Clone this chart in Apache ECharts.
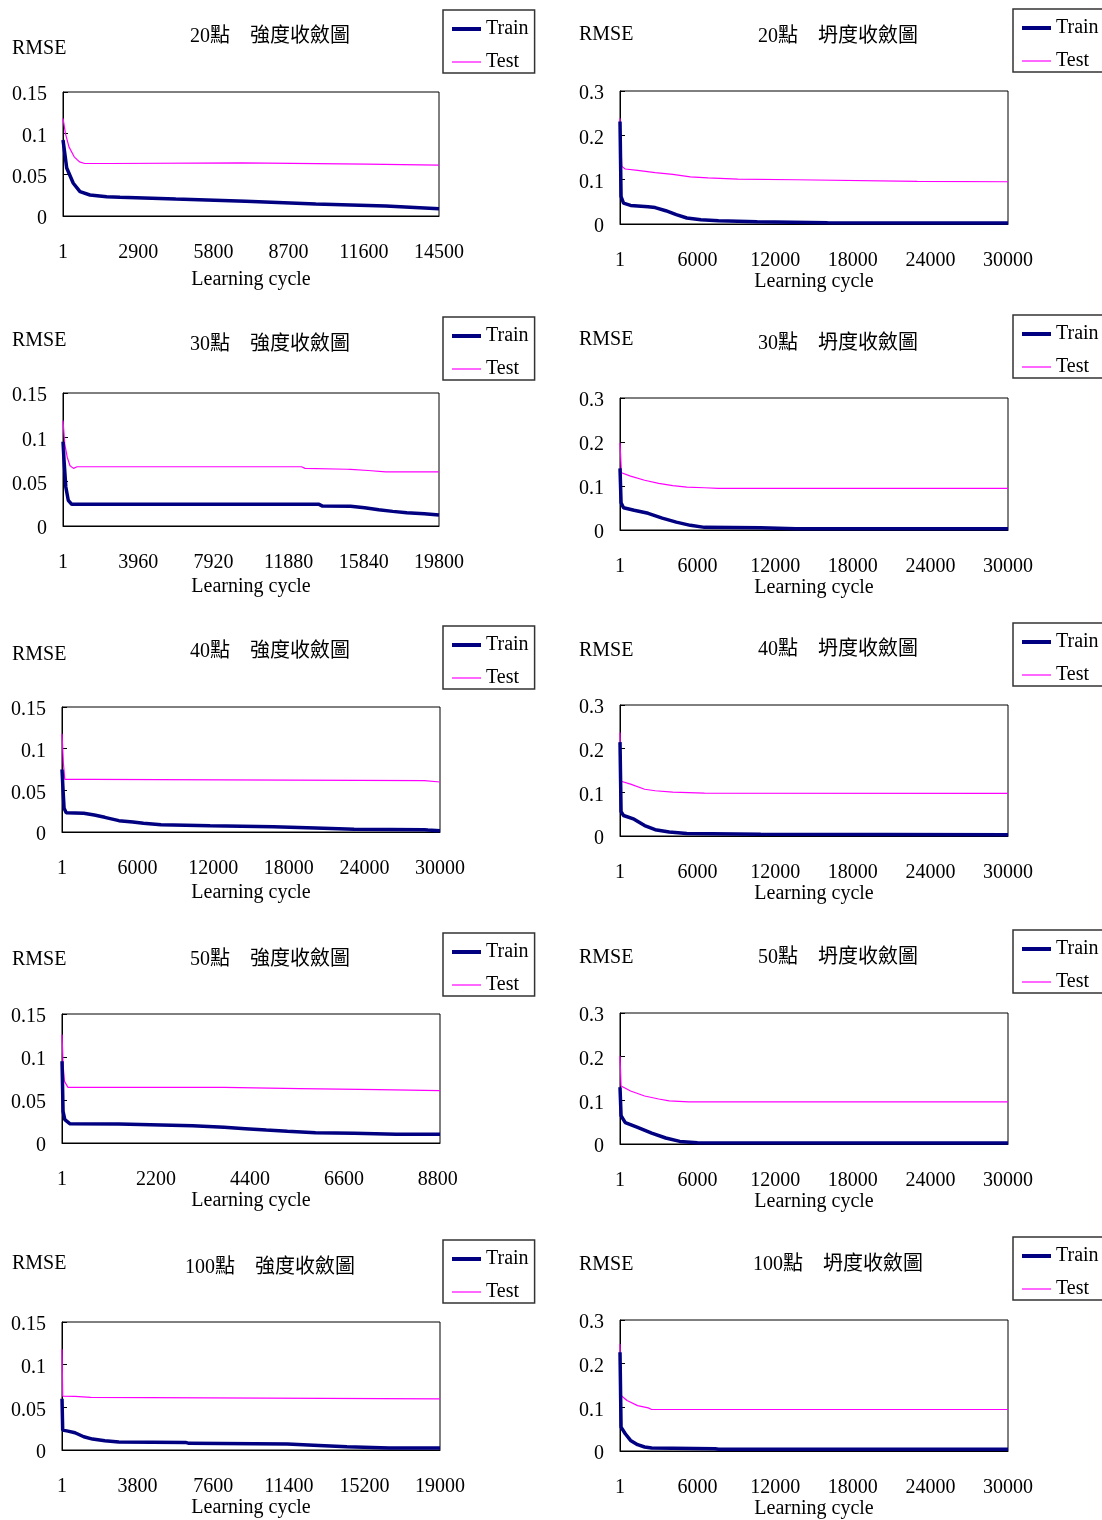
<!DOCTYPE html>
<html>
<head>
<meta charset="utf-8">
<script src="https://cdn.jsdelivr.net/npm/echarts@6/dist/echarts.min.js"></script>
<style>
html,body{margin:0;padding:0;background:#fff;}
#c{width:1102px;height:1520px;}
</style>
</head>
<body>
<div id="c"></div>
<script>
// ---------- DATA ----------
const panelTitles = ['20點　強度收斂圖','20點　坍度收斂圖','30點　強度收斂圖','30點　坍度收斂圖','40點　強度收斂圖','40點　坍度收斂圖','50點　強度收斂圖','50點　坍度收斂圖','100點　強度收斂圖','100點　坍度收斂圖'];
const yLabel = 'RMSE';
const xLabel = 'Learning cycle';
const seriesNames = ['Train','Test'];

const xTicks20S = [1,2900,5800,8700,11600,14500];
const xTicks30S = [1,3960,7920,11880,15840,19800];
const xTicks40S = [1,6000,12000,18000,24000,30000];
const xTicks50S = [1,2200,4400,6600,8800];
const xTicks100S = [1,3800,7600,11400,15200,19000];
const xTicksSlump = [1,6000,12000,18000,24000,30000];
const xMaxes = [14500,30000,19800,30000,30000,30000,8850,30000,19000,30000];
const yTicksStrength = [0,0.05,0.1,0.15];
const yTicksSlump = [0,0.1,0.2,0.3];

const train20S = [[1,0.092],[143,0.058],[397,0.0396],[655,0.0294],[1041,0.0254],[1685,0.0234],[2200,0.0228],[4347,0.0205],[7047,0.0177],[9747,0.0145],[12447,0.0121],[14500,0.0088]];
const test20S = [[1,0.118],[95,0.0997],[230,0.0836],[432,0.0716],[635,0.0655],[837,0.0635],[1800,0.0635],[1850,0.0643],[6900,0.0643],[6912,0.0627],[11700,0.0627],[11772,0.0615],[14500,0.0615]];

const train20T = [[1,0.231],[82,0.062],[272,0.047],[816,0.042],[2176,0.039],[2720,0.037],[3536,0.030],[4352,0.021],[5168,0.0135],[6256,0.0098],[7616,0.0075],[10608,0.0052],[16048,0.003],[30000,0.0022]];
const test20T = [[1,0.2385],[136,0.130],[408,0.124],[1360,0.121],[2720,0.116],[4080,0.112],[5440,0.1065],[6800,0.104],[9112,0.101],[13600,0.0998],[22984,0.096],[30000,0.0953]];

const train30S = [[1,0.095],[55,0.074],[148,0.044],[277,0.029],[462,0.0244],[13483,0.0244],[13668,0.0225],[15145,0.0222],[15884,0.0206],[16623,0.0184],[17362,0.0165],[18101,0.015],[19024,0.0139],[19800,0.0124]];
const test30S = [[1,0.119],[92,0.0926],[222,0.0776],[369,0.068],[554,0.065],[739,0.0668],[12560,0.0668],[12744,0.065],[14960,0.064],[15145,0.0638],[16069,0.0626],[16992,0.061],[19800,0.061]];

const train30T = [[1,0.14],[82,0.062],[272,0.0506],[1088,0.045],[2176,0.038],[3264,0.027],[4352,0.018],[5440,0.0106],[6528,0.006],[10880,0.0053],[13600,0.003],[30000,0.003]];
const test30T = [[1,0.198],[109,0.130],[816,0.1225],[1904,0.113],[2992,0.106],[4080,0.101],[5168,0.0975],[6528,0.096],[7616,0.0945],[30000,0.0945]];

const train40S = [[1,0.075],[84,0.05],[167,0.0284],[334,0.0232],[1727,0.0224],[2563,0.0204],[3399,0.0176],[4513,0.0136],[5628,0.012],[6464,0.0104],[7857,0.0088],[11757,0.0076],[16772,0.0064],[20115,0.0048],[23180,0.0032],[28752,0.0028],[29030,0.0024],[30000,0.0016]];
const test40S = [[1,0.118],[111,0.0824],[223,0.0632],[2424,0.0632],[2563,0.0616],[28752,0.0616],[28891,0.060],[30000,0.060]];

const train40T = [[1,0.215],[82,0.056],[272,0.0469],[1088,0.0386],[1904,0.024],[2720,0.0144],[3808,0.009],[5168,0.006],[10880,0.0038],[30000,0.003]];
const test40T = [[1,0.237],[82,0.1255],[816,0.1187],[1904,0.107],[2720,0.1036],[4080,0.1005],[6528,0.0983],[30000,0.0975]];

const train50S = [[1,0.095],[25,0.0368],[66,0.0271],[181,0.0225],[1332,0.0221],[1373,0.0205],[3058,0.0202],[3099,0.019],[3798,0.0182],[4291,0.0167],[4784,0.0151],[5277,0.0136],[5935,0.012],[6839,0.0112],[7825,0.0101],[8850,0.0101]];
const test50S = [[1,0.126],[25,0.091],[58,0.0717],[140,0.0647],[3798,0.0647],[3839,0.0632],[5565,0.0632],[5606,0.062],[7414,0.062],[7455,0.061],[8850,0.061]];

const train50T = [[1,0.13],[82,0.0646],[408,0.049],[1360,0.038],[2448,0.025],[3536,0.0137],[4624,0.006],[5984,0.003],[30000,0.0023]];
const test50T = [[1,0.201],[82,0.133],[816,0.1215],[1904,0.110],[2992,0.103],[3808,0.0988],[5304,0.0965],[30000,0.0965]];

const train100S = [[1,0.06],[35,0.0233],[300,0.0221],[653,0.0202],[1094,0.0155],[1535,0.0128],[2152,0.0109],[2858,0.0093],[6209,0.0089],[6386,0.0078],[11325,0.007],[12913,0.0054],[14324,0.0039],[16441,0.0023],[19000,0.0023]];
const test100S = [[1,0.118],[35,0.0632],[653,0.0628],[741,0.0617],[1446,0.0617],[1482,0.0598],[19000,0.0598]];

const train100T = [[1,0.226],[82,0.0547],[408,0.0395],[816,0.0243],[1360,0.0144],[1904,0.0091],[2448,0.0068],[7344,0.0053],[7616,0.0038],[30000,0.0038]];
const test100T = [[1,0.245],[82,0.127],[544,0.1155],[1360,0.104],[2176,0.0988],[2448,0.095],[30000,0.095]];

// ---------- LAYOUT ----------
const panels = [
  {train:train20S, test:test20S, xt:xTicks20S, yt:yTicksStrength, g:[63,92,376,124], title:[270,37], rmse:[12,47], leg:[443,10], gap:54},
  {train:train20T, test:test20T, xt:xTicksSlump, yt:yTicksSlump, g:[620,91,388,133], title:[838,37], rmse:[579,33], leg:[1013,9], gap:44},
  {train:train30S, test:test30S, xt:xTicks30S, yt:yTicksStrength, g:[63,393,376,133], title:[270,345], rmse:[12,339], leg:[443,317], gap:51},
  {train:train30T, test:test30T, xt:xTicksSlump, yt:yTicksSlump, g:[620,398,388,132], title:[838,344], rmse:[579,338], leg:[1013,315], gap:45},
  {train:train40S, test:test40S, xt:xTicks40S, yt:yTicksStrength, g:[62,707,378,125], title:[270,652], rmse:[12,653], leg:[443,626], gap:51},
  {train:train40T, test:test40T, xt:xTicksSlump, yt:yTicksSlump, g:[620,705,388,131], title:[838,650], rmse:[579,649], leg:[1013,623], gap:47},
  {train:train50S, test:test50S, xt:xTicks50S, yt:yTicksStrength, g:[62,1014,378,129], title:[270,960], rmse:[12,958], leg:[443,933], gap:46},
  {train:train50T, test:test50T, xt:xTicksSlump, yt:yTicksSlump, g:[620,1013,388,131], title:[838,958], rmse:[579,956], leg:[1013,930], gap:46},
  {train:train100S, test:test100S, xt:xTicks100S, yt:yTicksStrength, g:[62,1322,378,128], title:[270,1268], rmse:[12,1262], leg:[443,1240], gap:46},
  {train:train100T, test:test100T, xt:xTicksSlump, yt:yTicksSlump, g:[620,1320,388,131], title:[838,1265], rmse:[579,1263], leg:[1013,1237], gap:46}
];

const SERIF = '"Liberation Serif","Times New Roman",serif';
const TITLEFONT = '"Liberation Serif","Noto Sans CJK TC",serif';

const grid=[], xAxis=[], yAxis=[], series=[], legend=[], graphic=[];
panels.forEach((p,i)=>{
  grid.push({left:p.g[0], top:p.g[1], width:p.g[2], height:p.g[3], show:true, borderColor:'#000', borderWidth:1, backgroundColor:'#fff', containLabel:false});
  const interval = p.xt[1];
  const ticks = p.xt;
  xAxis.push({
    type:'value', gridIndex:i, min:0, max:xMaxes[i], interval:interval,
    name:xLabel, nameLocation:'middle', nameGap:p.gap,
    nameTextStyle:{fontFamily:SERIF, fontSize:20, color:'#000'},
    axisLine:{show:true, onZero:false, lineStyle:{color:'#000', width:1}},
    axisTick:{show:false}, splitLine:{show:false},
    axisLabel:{margin:27, fontFamily:SERIF, fontSize:20, color:'#000', showMaxLabel:true,
      formatter:(v)=>{ if(v===0) return String(ticks[0]); return ticks.indexOf(v)>=0 ? String(v) : ''; }}
  });
  yAxis.push({
    type:'value', gridIndex:i, min:p.yt[0], max:p.yt[p.yt.length-1], interval:p.yt[1]-p.yt[0],
    axisLine:{show:true, lineStyle:{color:'#000', width:1}},
    axisTick:{show:true, inside:true, length:5, lineStyle:{color:'#000'}},
    splitLine:{show:false},
    axisLabel:{margin:16, color:'#000', formatter:'{v|{value}}',
      rich:{v:{fontFamily:SERIF, fontSize:20, color:'#000', padding:[6,0,0,0]}}}
  });
  series.push({name:seriesNames[0], type:'line', xAxisIndex:i, yAxisIndex:i, data:p.train, showSymbol:false, symbol:'none',
    lineStyle:{color:'#000080', width:3.5}, itemStyle:{color:'#000080'}, z:3, animation:false});
  series.push({name:seriesNames[1], type:'line', xAxisIndex:i, yAxisIndex:i, data:p.test, showSymbol:false, symbol:'none',
    lineStyle:{color:'#ff00ff', width:1.2}, itemStyle:{color:'#ff00ff'}, z:2, animation:false});
  legend.push({
    data:[
      {name:seriesNames[0], lineStyle:{width:4, color:'#000080'}},
      {name:seriesNames[1], lineStyle:{width:1.2, color:'#ff00ff'}}
    ],
    orient:'vertical', left:p.leg[0], top:p.leg[1],
    padding:[9,6,1,7], itemGap:13, itemWidth:29, itemHeight:14,
    borderColor:'#333', borderWidth:1.5, backgroundColor:'#fff', selectedMode:false,
    itemStyle:{opacity:0},
    textStyle:{fontFamily:SERIF, fontSize:20, color:'#000', padding:[0,0,0,0]}
  });
  graphic.push({type:'text', left:p.rmse[0], top:p.rmse[1]-8, style:{text:yLabel, font:'20px '+SERIF, fill:'#000'}});
  graphic.push({type:'text', x:p.title[0], y:p.title[1], style:{text:panelTitles[i], font:'20px '+TITLEFONT, fill:'#000', align:'center', verticalAlign:'middle'}});
});

const chart = echarts.init(document.getElementById('c'), null, {renderer:'canvas'});
chart.setOption({animation:false, backgroundColor:'#fff', grid, xAxis, yAxis, series, legend, graphic});
</script>
</body>
</html>
